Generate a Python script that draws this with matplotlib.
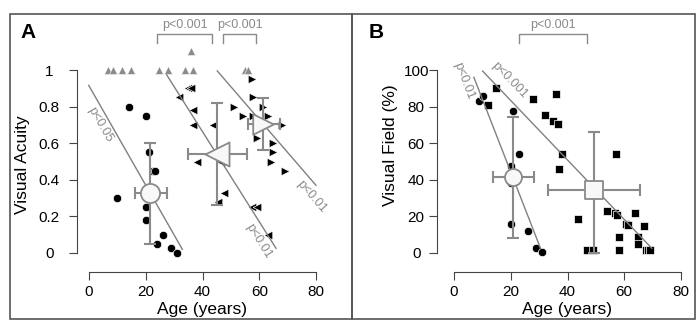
import numpy as np
import matplotlib
matplotlib.use("Agg")
import matplotlib.pyplot as plt
from matplotlib.patches import Rectangle

plt.rcParams['font.family'] = ['Liberation Sans', 'DejaVu Sans']

# ---- panel A: visual acuity vs age ----
kolo_wiek = [14, 20, 21, 22.6, 23.4, 10, 20, 20, 26, 24, 29, 31]
kolo_va = [0.80, 0.75, 0.55, 0.45, 0.45, 0.30, 0.25, 0.18, 0.10, 0.05, 0.03, 0.0]

lewy_wiek = [35.0, 35.8, 31.7, 36.7, 36.8, 43.6, 38.0, 46.6, 47.7, 45.5, 57.5, 59.3, 63.0]
lewy_va = [0.90, 0.90, 0.855, 0.78, 0.70, 0.70, 0.50, 0.50, 0.33, 0.28, 0.25, 0.25, 0.10]

prawy_wiek = [57.3, 57.9, 51.1, 61.4, 54.2, 57.9, 63.2, 68.1, 59.1, 65.0, 65.0, 64.0, 69.2]
prawy_va = [0.95, 0.855, 0.80, 0.80, 0.75, 0.75, 0.75, 0.70, 0.63, 0.60, 0.55, 0.50, 0.45]

szary_wiek = [6.6, 8.3, 11.5, 14.7, 24.8, 27.7, 33.8, 36.8, 55.0, 55.9, 35.9]
szary_va = [1, 1, 1, 1, 1, 1, 1, 1, 1, 1, 1.105]

# means (age, va, age err lo/hi, va err lo/hi)
sr_kolo_A = (21.5, 0.33, 16.2, 27.6, 0.05, 0.60)
sr_lewy_A = (45.0, 0.54, 34.8, 55.6, 0.26, 0.82)
sr_prawy_A = (61.4, 0.705, 56.1, 67.3, 0.563, 0.845)

# regression lines (x0, y0, x1, y1)
linie_A = [(-0.1, 0.916, 32.9, 0.02), (27.4, 0.973, 65.9, 0.026), (45.2, 0.995, 80.0, 0.37)]
etyk_A = [("p<0.05", 3.9, 0.70, -60), ("p<0.01", 59.7, 0.062, -58), ("p<0.01", 78.5, 0.31, -49)]
klamry_A = [(23.8, 43.5), (47.1, 59.0)]

# ---- panel B: visual field vs age ----
kolo_wiek_B = [8.9, 10.1, 20.9, 22.9, 20.0, 20.0, 20.0, 26.0, 28.8, 31.1]
kolo_vf = [83, 86, 77.6, 54, 47.7, 38.4, 15.7, 12.2, 2.6, 0.4]

kwad_wiek = [14.8, 12.0, 27.8, 35.9, 32.0, 34.8, 36.7, 38.0, 36.9, 57.0, 53.9, 43.8,
             56.8, 57.6, 60.6, 61.4, 63.9, 66.9, 58.0, 64.9, 64.9, 46.8, 49.1, 58.0,
             67.5, 68.3, 69.1]
kwad_vf = [90.3, 81, 84, 86.9, 75.2, 72.3, 70.3, 54.1, 46.1, 54, 22.8, 18.8,
           21.8, 21.0, 16.0, 15.3, 22, 14.9, 8.9, 8.9, 4.7, 1.6, 1.6, 1.6,
           1.6, 1.6, 1.6]

sr_kolo_B = (20.9, 41.7, 13.6, 28.2, 8.4, 74.5)
sr_kwad_B = (49.2, 34.6, 33.0, 65.4, 0.0, 66.0)

linie_B = [(7.0, 96, 30.5, 2.5), (10.1, 99.4, 69.7, 2.6)]
etyk_B = [("p<0.01", 3.3, 94.2, -69), ("p<0.001", 19.4, 94.2, -46)]
klamry_B = [(22.9, 47.0)]

SZARY = '#8a8a8a'
OSIE = '#444444'

fig = plt.figure(figsize=(7, 3.28), dpi=100)
W, H = 700, 328


def osie(left_px, ylim, yticks, yticklabels, spine_x, spine_y, ypad):
    ax = fig.add_axes([left_px / W, (H - 289.6) / H, 261.05 / W, 274.5 / H])
    ax.set_xlim(-8, 84)
    ax.set_ylim(*ylim)
    for s in ['top', 'right']:
        ax.spines[s].set_visible(False)
    ax.spines['left'].set_position(('data', spine_x))
    ax.spines['bottom'].set_position(('data', spine_y))
    ax.spines['left'].set_bounds(yticks[0], yticks[-1])
    ax.spines['bottom'].set_bounds(0, 80)
    for s in ['left', 'bottom']:
        ax.spines[s].set_color(OSIE)
        ax.spines[s].set_linewidth(0.8)
    ax.set_xticks([0, 20, 40, 60, 80])
    ax.set_yticks(yticks)
    ax.set_yticklabels(yticklabels)
    ax.tick_params(direction='out', length=6, width=0.8, color=OSIE, labelsize=11)
    ax.tick_params(axis='x', pad=3)
    ax.tick_params(axis='y', pad=ypad)
    for t in ax.get_yticklabels():
        t.set_ha('center')
    ax.patch.set_visible(False)
    return ax


def srednia(ax, m, marker, ms):
    x, y, x0, x1, y0, y1 = m
    ax.errorbar([x], [y], xerr=[[x - x0], [x1 - x]], yerr=[[y - y0], [y1 - y]],
                fmt='none', ecolor=SZARY, elinewidth=1.5, capsize=4, capthick=1.5, zorder=4)
    ax.scatter([x], [y], marker=marker, s=ms, facecolor='#f8f8f8', edgecolor=SZARY,
               linewidth=1.3, zorder=5)


def klamra(ax, a, b, top, leg, ytxt):
    ax.plot([a, a, b, b], [leg, top, top, leg], color=SZARY, lw=1, clip_on=False)
    ax.text((a + b) / 2, ytxt, "p<0.001", ha='center', va='center', color=SZARY, fontsize=9)


# panel A
axA = osie(66.3, (-0.2, 1.3), [0, 0.2, 0.4, 0.6, 0.8, 1], ['0', '0.2', '0.4', '0.6', '0.8', '1'],
           -4.2, -0.104, 14)
axA.scatter(szary_wiek, szary_va, marker='^', s=34, color='#8a8a8a', edgecolor='white', linewidth=0.4, zorder=2)
axA.scatter(kolo_wiek, kolo_va, marker='o', s=36, color='black', edgecolor='white', linewidth=0.5, zorder=2)
axA.scatter(lewy_wiek, lewy_va, marker='<', s=38, color='black', edgecolor='white', linewidth=0.5, zorder=2)
axA.scatter(prawy_wiek, prawy_va, marker='>', s=38, color='black', edgecolor='white', linewidth=0.5, zorder=2)
for x0, y0, x1, y1 in linie_A:
    axA.plot([x0, x1], [y0, y1], color='#808080', lw=1, zorder=3)
for txt, x, y, r in etyk_A:
    axA.text(x, y, txt, rotation=r, rotation_mode='anchor', ha='center', va='center',
             color=SZARY, fontsize=9)
srednia(axA, sr_kolo_A, 'o', 190)
srednia(axA, sr_lewy_A, '<', 300)
srednia(axA, sr_prawy_A, '>', 220)
for a, b in klamry_A:
    klamra(axA, a, b, 1.198, 1.149, 1.246)
axA.set_ylabel("Visual Acuity", fontsize=12.5)
axA.yaxis.set_label_coords(-0.166, 0.454)
axA.yaxis.label.set_va('center')
axA.set_xlabel("Age (years)", fontsize=12.5)
axA.xaxis.set_label_coords(0.5217, -0.045)

# panel B
axB = osie(431.3, (-20, 130), [0, 20, 40, 60, 80, 100], ['0', '20', '40', '60', '80', '100'],
           -6.0, -10.4, 9)
axB.scatter(kolo_wiek_B, kolo_vf, marker='o', s=36, color='black', edgecolor='white', linewidth=0.5, zorder=2)
axB.scatter(kwad_wiek, kwad_vf, marker='s', s=28, color='black', edgecolor='white', linewidth=0.5, zorder=2)
for x0, y0, x1, y1 in linie_B:
    axB.plot([x0, x1], [y0, y1], color='#808080', lw=1, zorder=3)
for txt, x, y, r in etyk_B:
    axB.text(x, y, txt, rotation=r, rotation_mode='anchor', ha='center', va='center',
             color=SZARY, fontsize=9)
srednia(axB, sr_kolo_B, 'o', 150)
srednia(axB, sr_kwad_B, 's', 150)
for a, b in klamry_B:
    klamra(axB, a, b, 119.5, 115, 124.6)
axB.set_ylabel("Visual Field (%)", fontsize=12.5)
axB.yaxis.set_label_coords(-0.158, 0.527)
axB.yaxis.label.set_va('center')
axB.set_xlabel("Age (years)", fontsize=12.5)
axB.xaxis.set_label_coords(0.5217, -0.045)

# panel frames and letters
for x0, x1 in [(10, 352), (352, 695)]:
    fig.patches.append(Rectangle((x0 / W, (H - 319) / H), (x1 - x0) / W, (319 - 14) / H,
                                 transform=fig.transFigure, fill=False, edgecolor='#555555', lw=1.2))
fig.text(28 / W, 1 - 33 / H, "A", fontsize=15, fontweight='bold', ha='center', va='center')
fig.text(376 / W, 1 - 33 / H, "B", fontsize=15, fontweight='bold', ha='center', va='center')

fig.savefig("out.png", dpi=100)
